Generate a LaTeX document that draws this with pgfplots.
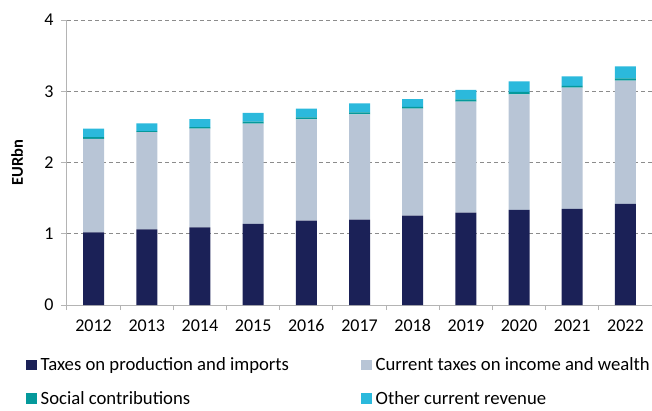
\documentclass[border=0pt]{standalone}
\usepackage{fontspec}
\setmainfont{Carlito}
\usepackage{pgfplots}
\pgfplotsset{compat=1.18}
\definecolor{cNavy}{HTML}{1B2157}
\definecolor{cLight}{HTML}{B8C5D6}
\definecolor{cTeal}{HTML}{05999B}
\definecolor{cCyan}{HTML}{2BB9DC}
\definecolor{cGrid}{HTML}{8C8C8C}
\definecolor{cAxis}{HTML}{B4B4B4}
\begin{document}
\begin{tikzpicture}
\begin{axis}[
  scale only axis, width=585pt, height=285pt,
  ybar stacked, bar width=21pt,
  xmin=-0.5, xmax=10.5, ymin=0, ymax=4,
  axis lines*=left,
  axis line style={-, draw=cAxis, line width=1pt},
  xtick={0,...,10},
  xticklabels={2012,2013,2014,2015,2016,2017,2018,2019,2020,2021,2022},
  minor xtick={-0.5,0.5,...,10.5},
  xtick style={draw=none},
  minor x tick style={draw=cAxis, line width=1pt},
  minor tick length=5pt,
  ytick={0,1,2,3,4},
  ytick style={draw=cAxis, line width=1pt},
  major tick length=6pt,
  tick align=outside,
  ymajorgrids,
  major grid style={dashed, draw=cGrid, line width=0.8pt, dash pattern=on 4pt off 3pt},
  /pgf/number format/assume math mode=true,
  ticklabel style={font=\fontsize{18}{21}\selectfont},
  xticklabel style={yshift=-5pt},
  yticklabel style={xshift=-4pt},
  ylabel={\textbf{EURbn}},
  ylabel style={font=\fontsize{16.5}{19}\selectfont, at={(axis description cs:-0.085,0.5)}, anchor=center},
  legend columns=2,
  legend cell align=left,
  legend style={at={(axis description cs:-0.0701,-0.178)}, anchor=north west, draw=none, fill=none,
    font=\fontsize{18.7}{22}\selectfont, inner sep=0pt, row sep=15pt,
    /tikz/every odd column/.append style={column sep=2pt},
    /tikz/every even column/.append style={column sep=70pt}},
  legend image code/.code={\fill[#1] (0pt,-5pt) rectangle (10.5pt,5.5pt);},
]
\addplot[fill=cNavy, draw=none] coordinates {(0,1.02) (1,1.06) (2,1.09) (3,1.14) (4,1.185) (5,1.20) (6,1.255) (7,1.295) (8,1.335) (9,1.35) (10,1.42)};
\addplot[fill=cLight, draw=none] coordinates {(0,1.31) (1,1.365) (2,1.385) (3,1.405) (4,1.42) (5,1.475) (6,1.50) (7,1.56) (8,1.62) (9,1.70) (10,1.73)};
\addplot[fill=cTeal, draw=none] coordinates {(0,0.025) (1,0.015) (2,0.02) (3,0.03) (4,0.03) (5,0.03) (6,0.025) (7,0.03) (8,0.035) (9,0.025) (10,0.03)};
\addplot[fill=cCyan, draw=none] coordinates {(0,0.12) (1,0.11) (2,0.115) (3,0.12) (4,0.12) (5,0.125) (6,0.11) (7,0.135) (8,0.15) (9,0.135) (10,0.17)};
\legend{Taxes on production and imports, Current taxes on income and wealth, Social contributions, Other current revenue}
\end{axis}
\pgfresetboundingbox
\path[use as bounding box] (-67pt,-105pt) rectangle (585pt,305pt);
\end{tikzpicture}
\end{document}
